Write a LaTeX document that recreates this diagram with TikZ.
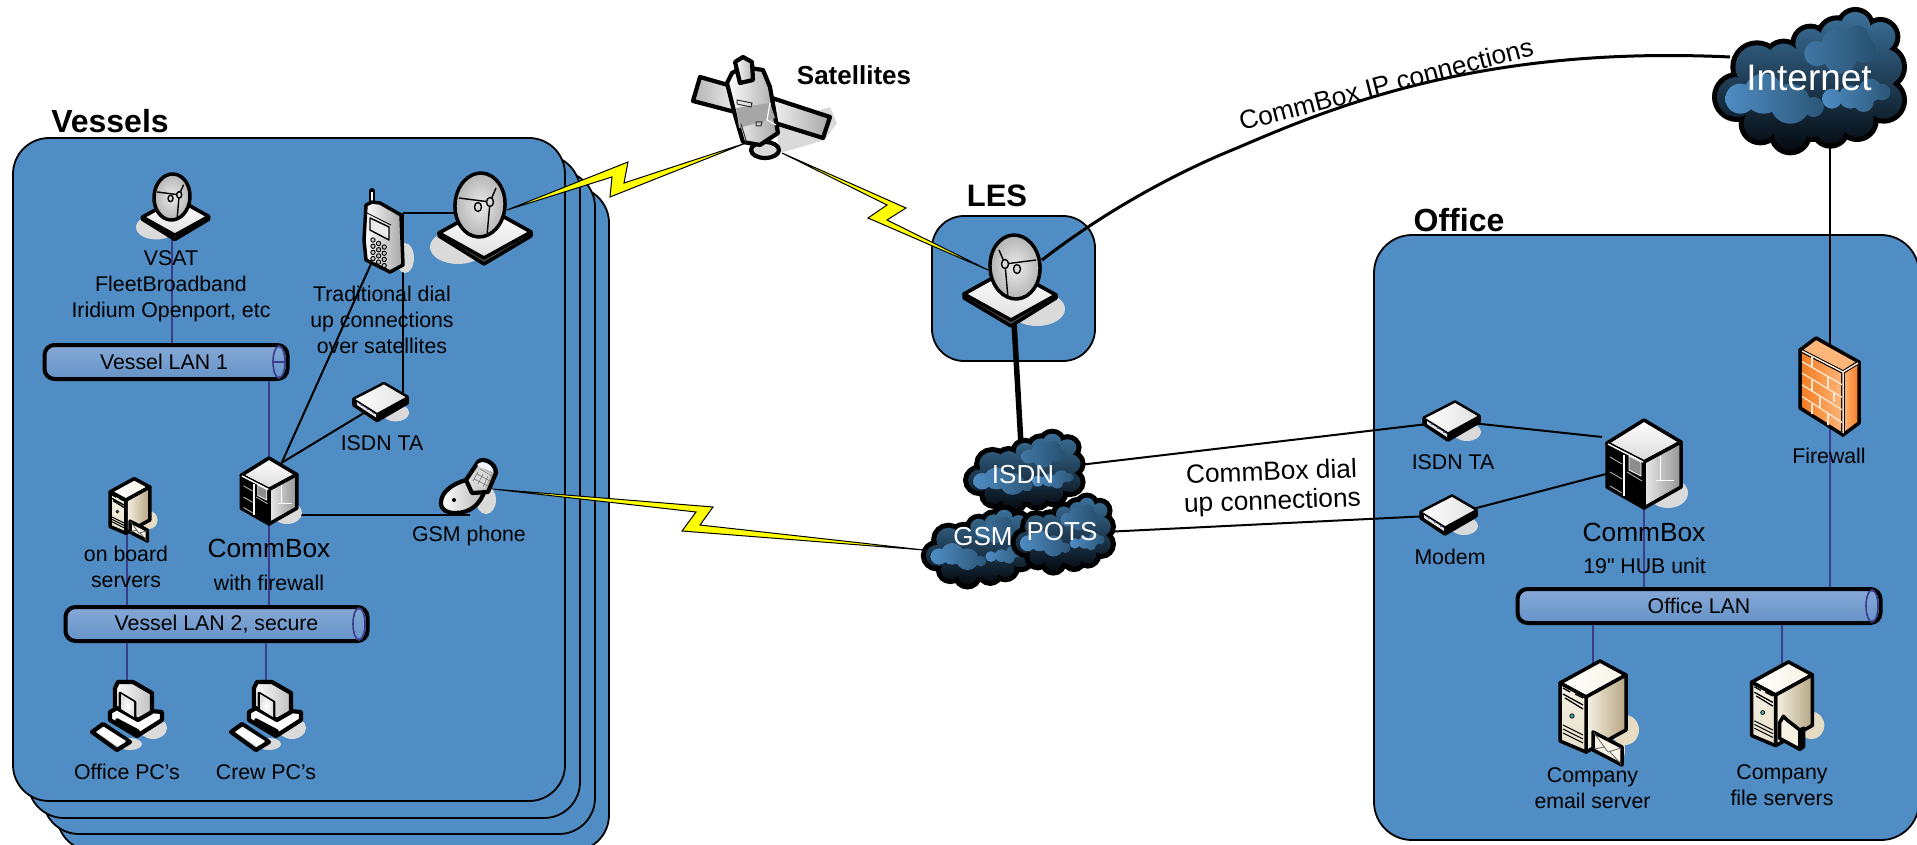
\documentclass[tikz,border=0pt]{standalone}
\usepackage{fontspec}
\setmainfont[Ligatures=ResetAll]{Liberation Sans}
\newfontfamily\plainfont{Liberation Sans}
\usetikzlibrary{calc}
\definecolor{panelblue}{HTML}{4F8DC4}
\definecolor{lanline}{HTML}{3C3C8C}
\definecolor{shadowgray}{HTML}{DADADA}
\definecolor{boltyellow}{HTML}{FFFF00}
\definecolor{lantop}{HTML}{86A9D6}
\definecolor{lanmid}{HTML}{CBD7EB}
\definecolor{lanbot}{HTML}{6593C8}
\definecolor{cloudtop}{HTML}{3B7099}
\definecolor{cloudmid}{HTML}{27506F}
\definecolor{cloudbot}{HTML}{040A10}
\definecolor{puffend}{HTML}{2B5677}
\definecolor{towerlight}{HTML}{F7F2E4}
\definecolor{towerdark}{HTML}{B5A582}
\definecolor{towershadow}{HTML}{E6DCC4}
\definecolor{fwdeep}{HTML}{F47A1F}
\definecolor{fwpale}{HTML}{FDB67A}
\definecolor{fwbrick}{HTML}{FBE7CF}
\newcommand{\fs}[1]{\fontsize{#1}{26}\selectfont}
\tikzset{
  panel/.style={draw=black,line width=1.8pt,fill=panelblue,rounded corners=36pt},
  spot/.style={inner sep=0pt,outer sep=0pt,minimum size=1pt},
  link/.style={draw=black,line width=2pt},
  lanlink/.style={draw=lanline,line width=2pt},
  lanbar/.style={draw=black,line width=4pt,rounded corners=10pt,
     top color=lantop,middle color=lanmid,bottom color=lanbot,inner sep=0pt,minimum height=34pt,font=\fs{21.3},text=black},
  lab/.style={font=\fs{21.3},align=center,text=black,inner sep=0pt},
  labbig/.style={font=\fs{26.3},align=center,text=black,inner sep=0pt},
  title/.style={font=\bfseries\fs{32},text=black,inner sep=0pt},
  cloudtext/.style={font=\fs{26},text=white,inner sep=0pt},
  bolt/.style={draw=black,line width=1pt,fill=boltyellow,line join=miter},
  ol/.style={draw=black,line width=3.5pt,line join=round},
  olthick/.style={draw=black,line width=4.2pt,line join=round},
  olthin/.style={draw=black,line width=1.4pt,line join=round},
  shad/.style={fill=shadowgray},
  dish/.pic={
    \fill[shad] (-22,42) ellipse (28 and 17);
    \draw[ol,fill=black!70] (-41,28) -- (-41,31) -- (4,59) -- (51,31) -- (51,27) -- (6,2) -- cycle;
    \shade[ol,top color=white,bottom color=black!12] (-41,28) -- (6,2) -- (51,27) -- (4,53) -- cycle;
    \shade[ol,inner color=black!8,outer color=black!30,rotate=-4] (0,0) ellipse (25 and 32);
    \draw[olthin] (-21,-7) -- (10,-3) (10,-3) -- (16,-17) (10,-3) -- (7,31);
    \draw[olthin,fill=black!15] (-2,2) ellipse (3.5 and 4.5) (10,-3) ellipse (3.5 and 4.5);
  },
  modembox/.pic={
    \fill[shad] (14,11) ellipse (14 and 9);
    \draw[ol,fill=black] (-29,-3) -- (-29,3) -- (-5,19) -- (26,1) -- (26,-5) -- (2,-19) -- cycle;
    \shade[olthin,left color=white,right color=black!12] (-29,-3) -- (2,-19) -- (26,-5) -- (-5,12) -- cycle;
    \fill[black!10] (-26,0) -- (-6,13) -- (-6,16) -- (-26,3) -- cycle;
    \fill[lanline] (-21,3) circle (1.1) (-15,7) circle (1.1) (-9,11) circle (1.1);
  },
  cubebox/.pic={
    \fill[shad] (24,29) ellipse (20 and 15);
    \shade[ol,top color=white,bottom color=black!15] (0,-44) -- (37,-22) -- (0,-2) -- (-37,-21) -- cycle;
    \shade[ol,left color=black!8,right color=black!42] (0,-2) -- (37,-22) -- (37,23) -- (0,44) -- cycle;
    \draw[ol,fill=black] (-37,-21) -- (0,-2) -- (0,44) -- (-37,23) -- cycle;
    \draw[white,line width=1.4pt] (-36,-20) -- (-1,-2);
    \draw[white,line width=2.6pt] (-20,-9) -- (-20,32);
    \draw[white!70!black,line width=.9pt] (-34,-7) -- (-22,0) (-34,8) -- (-22,15) (-17,8) -- (-2,17) (-34,22) -- (-22,29);
    \fill[black!45] (-15,-8) -- (-3,-2) -- (-3,12) -- (-15,6) -- cycle;
    \draw[white,line width=.7pt] (-15,-8) -- (-3,-2) -- (-3,12) -- (-15,6) -- cycle;
    \draw[white,line width=.7pt] (12,16) -- (30,16) (16,-8) -- (16,16);
  },
  towerbody/.pic={
    \fill[towershadow] (32,20) ellipse (14 and 15);
    \shade[ol,left color=white,right color=towerlight] (7,-49) -- (33,-35) -- (-7,-13) -- (-33,-27) -- cycle;
    \shade[ol,left color=towerlight,right color=towerdark] (-7,-13) -- (33,-35) -- (33,20) -- (-7,42) -- cycle;
    \shade[ol,top color=towerlight,bottom color=towerlight!75!towerdark] (-33,-27) -- (-7,-13) -- (-7,42) -- (-33,31) -- cycle;
    \draw[line width=1.3pt,black] (-30,-22) -- (-23,-18) (-18,-16) -- (-10,-12) (-30,-16) -- (-10,-5) (-28,-12) -- (-10,-1);
    \fill[teal!70!white,draw=black,line width=.7pt] (-21,6) circle (2.2);
    \draw[line width=1pt,black] (-30,15) -- (-10,25) (-30,19) -- (-10,29) (-30,23) -- (-10,33);
  },
  envelopeicon/.pic={
    \fill[towershadow] (29,38) ellipse (3 and 12);
    \draw[ol,fill=towerlight] (0,22) -- (29,37) -- (29,55) -- (0,40) -- cycle;
    \draw[draw=black!60,line width=.8pt] (1,23) -- (15,42) -- (28,38) (1,39) -- (12,37) (28,54) -- (17,42);
  },
  foldericon/.pic={
    \draw[ol,fill=towerlight] (-8,16) -- (-4,9) -- (0,13) -- (14,24) -- (14,45) -- (-8,33) -- cycle;
    \shade[ol,left color=towerlight,right color=towerdark] (14,24) -- (18,22) -- (18,42) -- (14,45) -- cycle;
  },
  pcicon/.pic={
    \fill[shad] (26,11) ellipse (14 and 11);
    \fill[shad] (3,27) ellipse (12 and 6);
    \draw[olthick,fill=white] (-17,-5) -- (-10,-9) -- (35,-5) -- (35,3) -- (10,19) -- (-17,3) -- cycle;
    \draw[ol,fill=black] (-10,3) -- (11,14) -- (11,18) -- (-10,7) -- cycle;
    \shade[olthick,left color=white,right color=black!25] (-12,-29) -- (-9,-35) -- (6,-35) -- (25,-24) -- (25,-5) -- (11,3) -- (-12,-10) -- cycle;
    \draw[ol,line width=2.6pt,fill=black!5] (-7,-24) -- (8,-15) -- (8,1) -- (-7,-8) -- cycle;
    \shade[inner color=white,outer color=blue!8!black!12] (-6,-23) -- (7,-15) -- (7,0) -- (-6,-8) -- cycle;
    \draw[olthick,fill=black!15] (-35,15) -- (-24,7) -- (3,25) -- (-10,33) -- cycle;
    \fill[white] (-30,15) -- (-23,10) -- (-1,24) -- (-9,29) -- cycle;
  },
  netcloud/.pic={
    \begin{scope}[scale=1/3,shift={(-476,-242)}]
      \def\mainlobes{(260,290) circle (60) (320,200) circle (65) (400,180) circle (50) (480,130) circle (45)
        (560,110) circle (50) (615,80) circle (45) (690,110) circle (45) (700,200) circle (55) (700,300) circle (55)
        (620,360) circle (50) (540,385) circle (45) (420,400) circle (50) (330,370) circle (50) (480,280) circle (130) (600,230) circle (130)}
      \draw[black,line width=10pt] \mainlobes;
      \shade[top color=cloudtop,middle color=cloudmid,bottom color=cloudbot] \mainlobes;
      \shade[left color=panelblue,right color=puffend] (270,295) circle (45) (340,280) circle (60) (420,310) circle (60) (490,320) circle (30);
      \shade[left color=puffend!40!panelblue,right color=cloudmid] (500,160) circle (38) (560,130) circle (45) (620,110) circle (35) (640,150) circle (38) (570,170) circle (50);
      \shade[left color=panelblue,right color=puffend] (545,295) circle (30) (600,290) circle (35) (660,270) circle (35) (695,275) circle (25) (640,305) circle (30);
    \end{scope}
  },
}
\begin{document}
\begin{tikzpicture}[x=1pt,y=-1pt]
\useasboundingbox (0,0) rectangle (1917,845);
\fill[white] (0,0) rectangle (1917,845);
% vessel stack
\begin{scope}
\clip (0,0) rectangle (1917,845);
\draw[panel] (57,187) rectangle (609,851);
\draw[panel] (43,171) rectangle (595,834);
\draw[panel] (28,155) rectangle (580,818);
\draw[panel] (13,138) rectangle (565,801);
\draw[panel,rounded corners=32pt] (932,216) rectangle (1095,361);
\draw[panel,rounded corners=38pt] (1374,235) rectangle (1919,840);
\end{scope}
% LAN bars
\node[lanbar,minimum width=243pt] (lan1) at (166,362) {\hspace*{-4pt}Vessel LAN 1};
\node[lanbar,minimum width=302pt] (lan2) at (216.5,624) {Vessel LAN 2, secure};
\node[lanbar,minimum width=363pt] (lan3) at (1699,606) {Office LAN};
\draw[lanline,line width=1.6pt] (279,362) ellipse (6 and 16) (273,362) -- (285,362);
\draw[lanline,line width=1.6pt] (359,624) ellipse (6 and 16);
\draw[lanline,line width=1.6pt] (1872,606) ellipse (6 and 16);
% icon anchors
\node[spot] (vsat) at (172,197) {};
\node[spot] (dishv) at (480,205) {};
\node[spot] (les) at (1015,267) {};
\node[spot] (cell) at (384,235) {};
\node[spot] (tav) at (382,402) {};
\node[spot] (cbv) at (269,491) {};
\node[spot] (gsmp) at (470,490) {};
\node[spot] (obs) at (127,515) {};
\node[spot] (pc1) at (127,717) {};
\node[spot] (pc2) at (266,717) {};
\node[spot] (sat) at (755,105) {};
\node[spot] (cbo) at (1644,464) {};
\node[spot] (tao) at (1453,421) {};
\node[spot] (modem) at (1450,515) {};
\node[spot] (fw) at (1830,385) {};
\node[spot] (mail) at (1592.5,710) {};
\node[spot] (files) at (1782,707) {};
\node[spot] (inetc) at (1809,81) {};
\node[spot] (isdnc) at (1024,471.5) {};
\node[spot] (gsmc) at (978,547) {};
\node[spot] (potsc) at (1063,534) {};
\coordinate (cbvport) at (283,462);
\coordinate (cboport) at (1602,437);
\coordinate (lesport) at (1042,260);
\coordinate (inetport) at (1730,57);
\coordinate (lesfoot) at (1014,322);
\coordinate (isdntop) at (1021,445);
\coordinate (cellhub) at (402.5,213);
\coordinate (cbvside) at (289,515);
\coordinate (gsmfoot) at (470,515);
% connectors
\draw[lanlink] (vsat.center) -- (vsat |- lan1.north);
\draw[lanlink] (cbv.center |- lan1.south) -- (cbv.center) -- (cbv |- lan2.north);
\draw[lanlink] (obs.center) -- (obs |- lan2.north);
\draw[lanlink] (pc1 |- lan2.south) -- (pc1.center);
\draw[lanlink] (pc2 |- lan2.south) -- (pc2.center);
\draw[link] (cell.center) -- (cbv.center);
\draw[link] (cbvport) -- (tav.center);
\draw[link] (cellhub) -- (dishv.center |- cellhub);
\draw[link] (cellhub) -- (cellhub |- tav.center);
\draw[link] (cbvside) -- (gsmfoot);
\draw[lanlink] (cbo.center) -- (cbo |- lan3.north);
\draw[lanlink] (fw.center) -- (fw |- lan3.north);
\draw[lanlink] (mail |- lan3.south) -- (mail.center);
\draw[lanlink] (files |- lan3.south) -- (files.center);
\draw[link] (inetc -| fw) -- (fw.center);
\draw[link] (isdnc.center) -- (tao.center);
\draw[link] (tao.center) -- (cboport);
\draw[link] (potsc.center) -- (modem.center);
\draw[link] (modem.center) -- (cbo.center);
\draw[draw=black,line width=5.5pt] (lesfoot) -- (isdntop);
\draw[draw=black,line width=3pt] (lesport) .. controls (1100,215) and (1170,175) .. (1237,148) .. controls (1330,108) and (1480,45) .. (inetport);
% lightning
\coordinate (b1s) at (507,210); \coordinate (b1e) at (746,143);
\coordinate (b2s) at (782,153); \coordinate (b2e) at (988,270);
\coordinate (b3s) at (492,489); \coordinate (b3e) at (924,550);
\draw[bolt] (b1s) -- (628,162) -- (624,183) -- (b1e) -- (610,197) -- (612,177) -- cycle;
\draw[bolt] (b2s) -- (906,208) -- (887,220) -- (b2e) -- (868,218) -- (887,205) -- cycle;
\draw[bolt] (b3s) -- (713,507) -- (700,525) -- (b3e) -- (682,531) -- (696,512) -- cycle;
% icons
\pic[scale=.72] at (vsat) {dish};
\pic at (dishv) {dish};
\pic[xscale=-1] at (les) {dish};
\pic[scale=.97] at (tav) {modembox};
\pic at (tao) {modembox};
\pic at (modem) {modembox};
\pic[scale=.75] at (cbv) {cubebox};
\pic at (cbo) {cubebox};
\pic[scale=.6] at (130,508) {towerbody};
\pic[scale=.6] at (130,508) {envelopeicon};
\pic at (1593,710) {towerbody};
\pic at (1593,710) {envelopeicon};
\pic[scale=.92] at (files) {towerbody};
\pic[scale=.92] at (1787,708) {foldericon};
\pic at (pc1) {pcicon};
\pic at (pc2) {pcicon};
% cell phone
\fill[shad] (405,258) ellipse (9 and 15);
\draw[line width=6pt,line cap=round,draw=black] (372,191) -- (372,204);
\draw[white,line width=1.6pt] (372,192) -- (372,203);
\shade[ol,left color=white,right color=black!35] (366,205) -- (372,202) -- (380,203) -- (401,215) -- (403,265) -- (390,272) -- (366,260) -- (364,240) -- cycle;
\draw[olthin,fill=blue!5!black!8] (370,218) -- (389,227) -- (389,240) -- (370,230) -- cycle;
\draw[line width=.8pt] (367,213) -- (391,225);
\foreach \c in {0,1,2}\foreach \r in {0,1,2,3}
  \draw[olthin,line width=.9pt,fill=black!25] ({373+5.6*\c},{240+3.5*\c+6.2*\r}) circle (2.2);
% gsm flip phone
\fill[shad] (486,500) ellipse (10 and 14);
\shade[olthick,left color=white,right color=black!30] (441,503) .. controls (441,492) and (452,484) .. (466,480) -- (485,490) .. controls (480,505) and (470,513) .. (455,513) .. controls (447,513) and (441,510) .. cycle;
\fill[black] (454,500) circle (2);
\shade[olthick,left color=black!10,right color=black!35] (466,480) -- (478,462) .. controls (482,457) and (496,462) .. (496,473) -- (488,492) -- (472,493) -- cycle;
\fill[black!15] (472,482) -- (480,468) -- (491,474) -- (484,489) -- cycle;
\fill[blue!5!white] (477,465) .. controls (481,459) and (493,464) .. (493,472) -- (480,467) -- cycle;
\draw[black!55,line width=.6pt] (474,479) -- (488,486) (477,474) -- (490,481) (480,469) -- (492,476) (478,472) -- (473,481) (483,474) -- (478,484) (488,476) -- (483,487);
% firewall
\shade[left color=fwdeep,right color=fwpale,draw=black,line width=3.5pt,line join=round] (1800,350) -- (1843,372) -- (1843,435) -- (1800,408) -- cycle;
\shade[left color=fwpale,right color=fwdeep,draw=black,line width=3.5pt,line join=round] (1843,372) -- (1859,362) -- (1859,423) -- (1843,435) -- cycle;
\fill[fwpale,draw=black,line width=3.5pt,line join=round] (1800,350) -- (1816,338) -- (1859,362) -- (1843,372) -- cycle;
\draw[fwbrick,line width=1.5pt] (1802,351) -- (1843,372) -- (1858,363) (1843,372) -- (1843,433);
\foreach \t in {.2,.4,.6,.8}
  \draw[fwbrick,line width=1.3pt] ({1802},{350+58*\t}) -- ({1842},{372+63*\t});
\draw[fwbrick,line width=1.3pt] (1812,357) -- (1812,368) (1828,376) -- (1828,388) (1812,380) -- (1812,392) (1834,392) -- (1834,402) (1820,396) -- (1820,408) (1812,404) -- (1812,414) (1828,414) -- (1828,425);
% satellite
\fill[shad] (830,107) -- (837,123) -- (825,140) -- (780,153) -- (775,123) -- cycle;
\shade[olthick,left color=black!30,right color=black!8] (700,77) -- (728,85) -- (735,112) -- (693,101) -- cycle;
\shade[olthick,left color=black!5,right color=black!35] (772,98) -- (830,117) -- (823,138) -- (775,123) -- cycle;
\draw[olthick,fill=black!15] (765,150) ellipse (14 and 8);
\shade[olthick,left color=white,right color=black!35] (727,83) -- (732,73) -- (743,67) -- (763,70) -- (770,87) -- (778,133) -- (760,145) -- (743,142) -- (735,115) -- cycle;
\fill[black!35] (736,108) -- (770,103) -- (775,118) -- (739,128) -- cycle;
\draw[white,line width=1.2pt] (770,103) -- (767,120) -- (776,125);
\draw[line width=1pt,black!80] (737,100) -- (752,103) -- (751,107) -- (737,104) -- cycle (756,122) -- (762,122) -- (761,126) -- (756,126) -- cycle (741,124) -- (746,140);
\shade[olthick,left color=white,right color=black!30] (735,62) -- (743,57) -- (752,62) -- (753,80) -- (740,83) -- cycle;
% clouds
\pic at (inetc) {netcloud};
\pic[xscale=.608,yscale=.547] at (isdnc) {netcloud};
\pic[xscale=.567,yscale=.54] at (gsmc) {netcloud};
\pic[xscale=.515,yscale=.527] at (potsc) {netcloud};
% titles
\node[title] (tvess) at (110,121) {Vessels};
\node[title,font=\bfseries\fs{26}] (tsat) at (854,75) {Satellites};
\node[title,font=\bfseries\fs{31}] (tles) at (997,196) {LES};
\node[title] (toff) at (1459,220) {Office};
% labels
\node[lab] (lvsat) at (171,286) {VSAT\\FleetBroadband\\Iridium Openport, etc};
\node[lab] (ltrad) at (382,319.5) {Traditional dial\\up connections\\over satellites};
\node[lab] (ltav) at (382,443) {ISDN TA};
\node[lab] (lobs) at (126,567) {on board\\servers};
\node[labbig] (lcbv) at (269,548) {CommBox};
\node[lab] (lcbv2) at (269,583) {with firewall};
\node[lab] (lgsm) at (469,536) {GSM phone};
\node[lab] (lpc1) at (127,772) {Office PC’s};
\node[lab] (lpc2) at (266,772) {Crew PC’s};
\node[lab] (ltao) at (1453,462) {ISDN TA};
\node[lab] (lmod) at (1450,557) {Modem};
\node[labbig] (lcbo) at (1644,532) {CommBox};
\node[lab] (lcbo2) at (1644.5,566) {{\plainfont\fs{21.3}19"} HUB unit};
\node[lab] (lfw) at (1829,456) {Firewall};
\node[lab] (lmail) at (1592.5,788) {Company\\email server};
\node[lab] (lfile) at (1782,785) {Company\\file servers};
\node[labbig,rotate=2] (ldial) at (1272,488) {CommBox dial\\[3pt]up connections};
\node[labbig,rotate=14.5] (lip) at (1386,84) {CommBox IP connections};
% cloud labels
\node[cloudtext,font=\fs{37}] (linet) at (1809,78) {Internet};
\node[cloudtext] (lisdn) at (1023,475) {ISDN};
\node[cloudtext] (lgsmc) at (983,537) {GSM};
\node[cloudtext] (lpots) at (1062,532) {POTS};
\end{tikzpicture}
\end{document}
